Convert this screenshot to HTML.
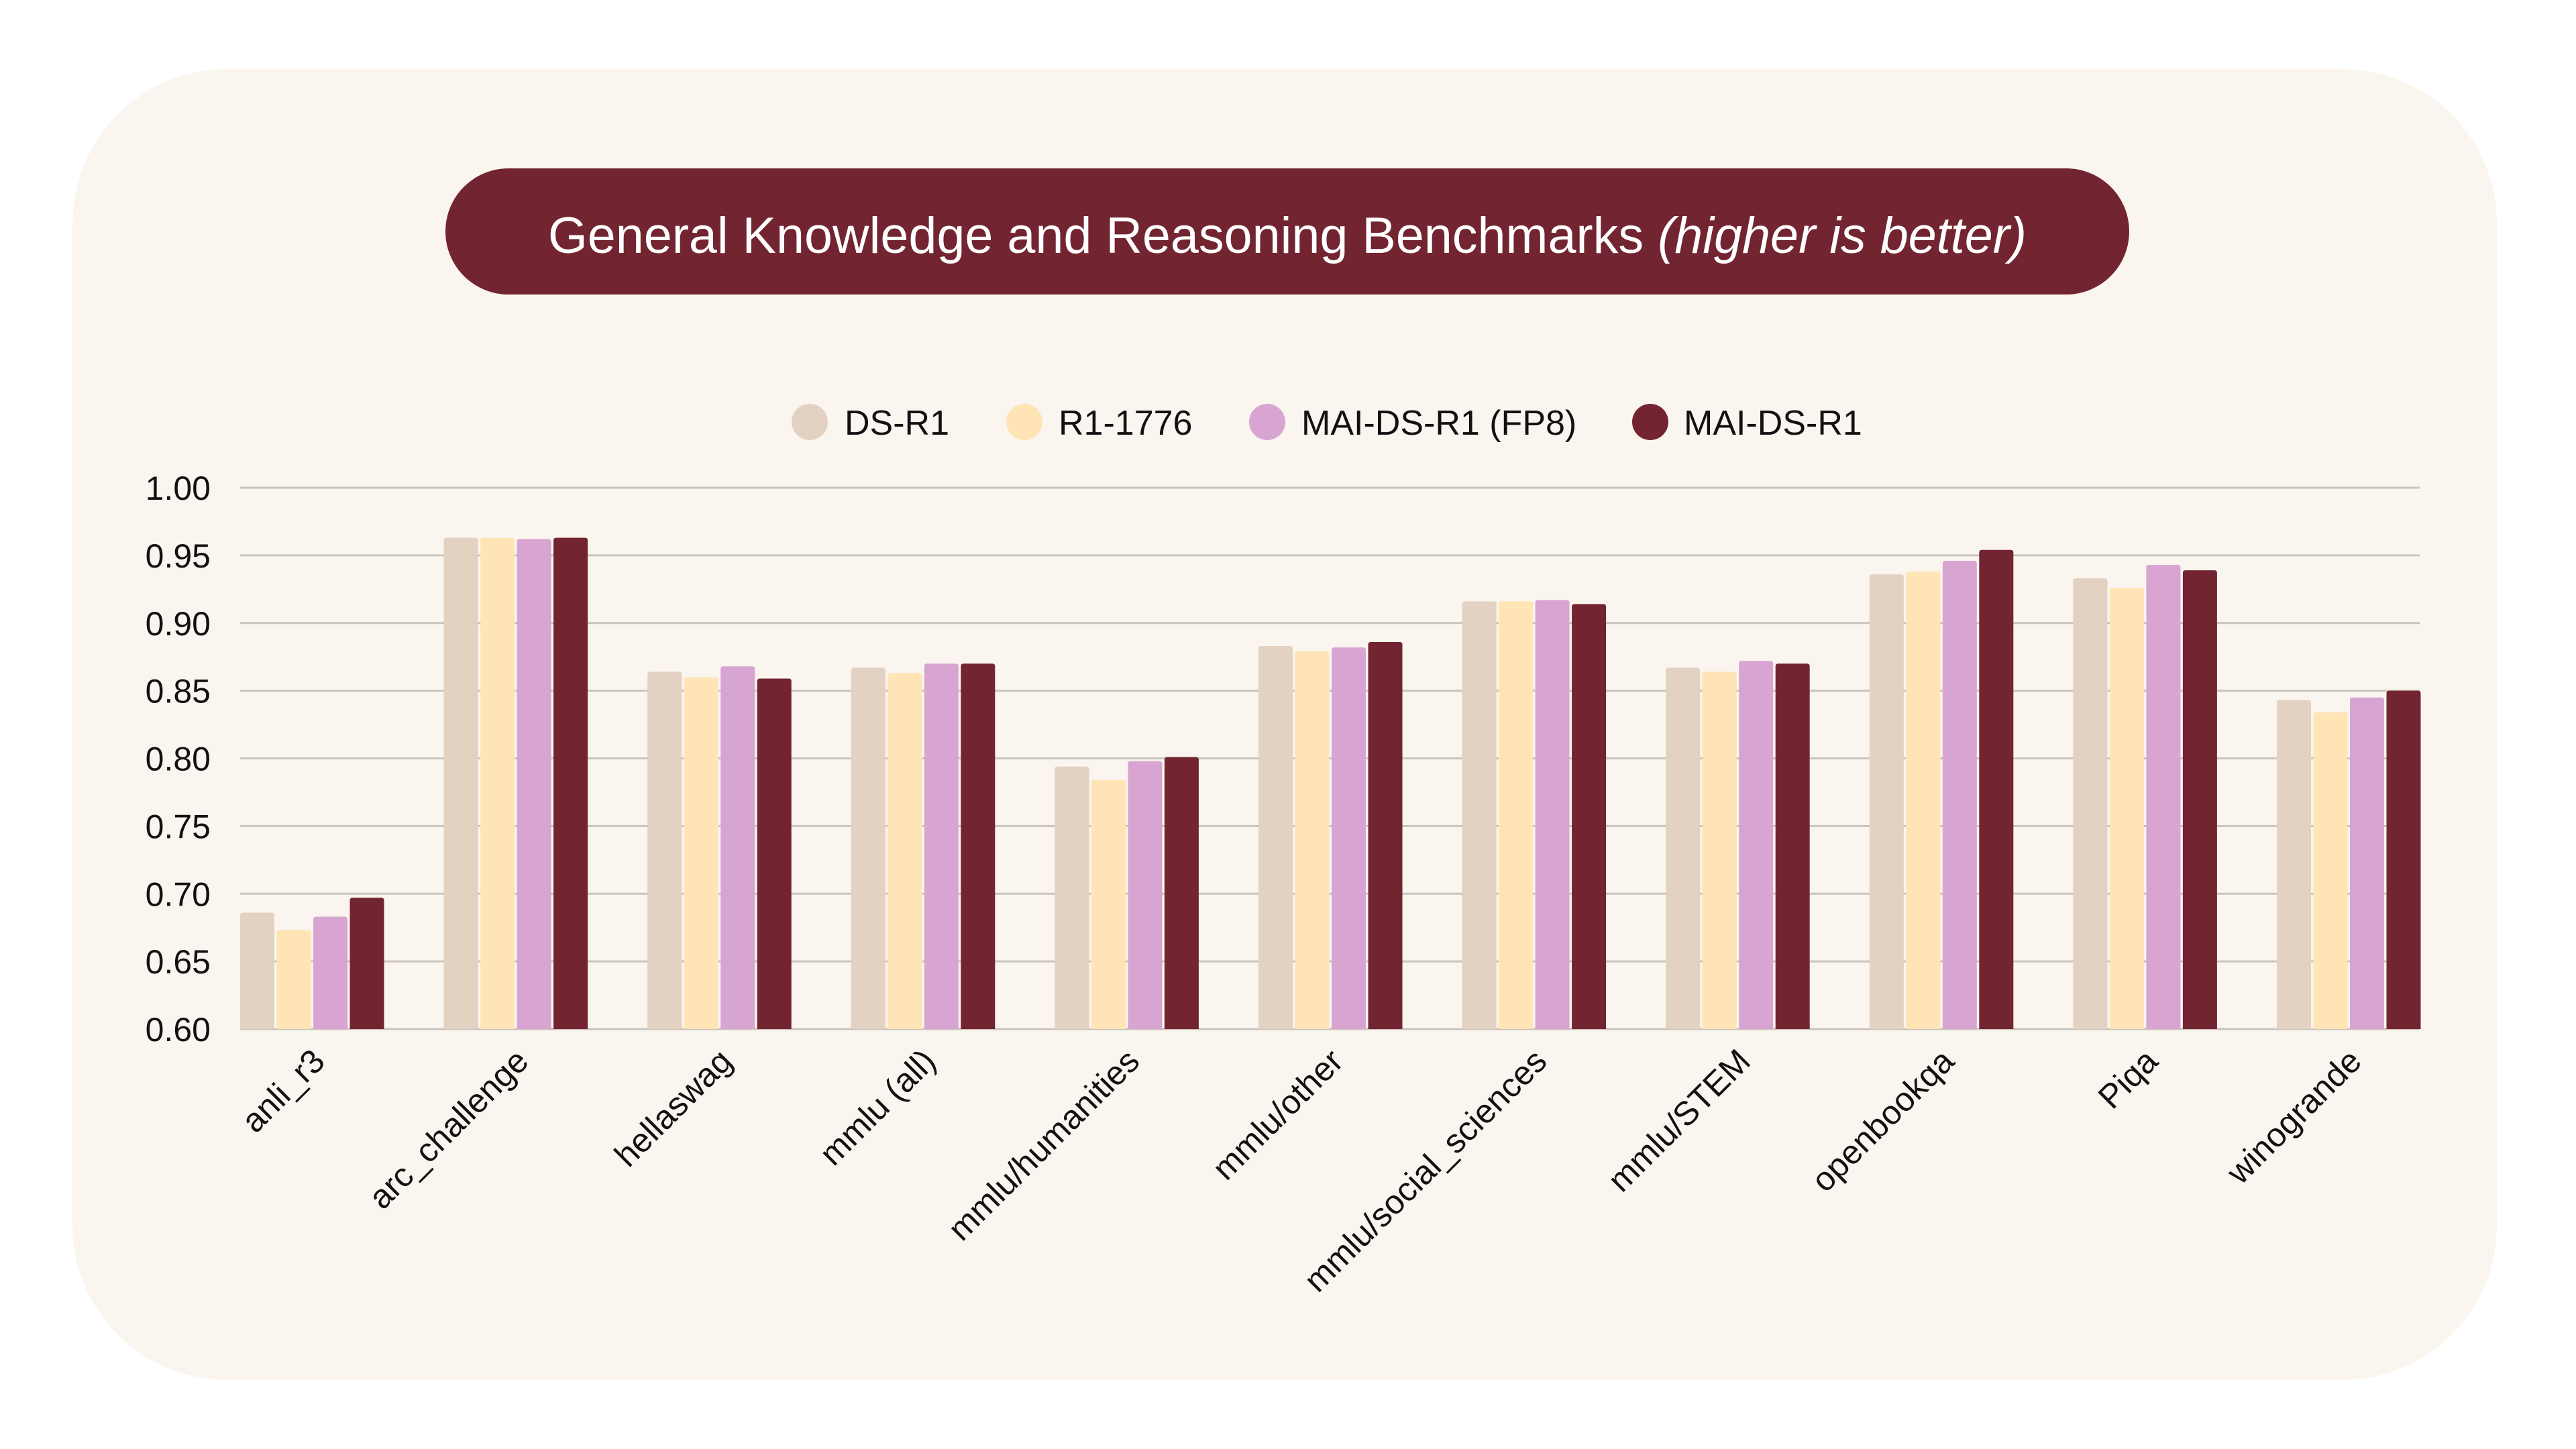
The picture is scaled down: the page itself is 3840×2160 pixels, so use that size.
<!DOCTYPE html>
<html><head><meta charset="utf-8"><style>
html,body{margin:0;padding:0;background:#fff;}
svg{display:block}
text{font-family:"Liberation Sans",sans-serif;}
</style></head><body>
<svg width="3840" height="2160" viewBox="0 0 3840 2160" xmlns="http://www.w3.org/2000/svg">
<rect x="0" y="0" width="3840" height="2160" fill="#ffffff"/>
<rect x="108" y="103" width="3614" height="1954" rx="230" ry="230" fill="#FAF5EE"/>
<rect x="664" y="251" width="2510" height="188" rx="94" ry="94" fill="#722530"/>
<text x="1919" y="377" text-anchor="middle" font-size="76" fill="#fff" textLength="2204" lengthAdjust="spacingAndGlyphs">General Knowledge and Reasoning Benchmarks <tspan font-style="italic">(higher is better)</tspan></text>
<g font-size="52" fill="#111">
<ellipse cx="1207" cy="629" rx="27" ry="27" fill="#E3D1C2"/><text x="1259" y="648">DS-R1</text>
<ellipse cx="1527" cy="629" rx="27" ry="27" fill="#FFE4B5"/><text x="1578" y="648">R1-1776</text>
<ellipse cx="1889" cy="629" rx="27" ry="27" fill="#D8A5D2"/><text x="1940" y="648">MAI-DS-R1 (FP8)</text>
<ellipse cx="2460" cy="629" rx="27" ry="27" fill="#722530"/><text x="2510" y="648">MAI-DS-R1</text>
</g>
<g id="grid" stroke="#c9c4bd" stroke-width="3"></g>
<g id="yl" font-size="50" fill="#111" text-anchor="end"></g>
<g id="bars"></g>
<g id="xl" font-size="50" fill="#111" text-anchor="end"></g>
<script>
var NS="http://www.w3.org/2000/svg";
function y(v){return 1534-(v-0.6)/0.4*807;}
var g=document.getElementById('grid'),yl=document.getElementById('yl');
for(var i=0;i<=8;i++){var v=0.6+i*0.05;var l=document.createElementNS(NS,'line');l.setAttribute('x1',358);l.setAttribute('x2',3607);l.setAttribute('y1',y(v));l.setAttribute('y2',y(v));g.appendChild(l);
var t=document.createElementNS(NS,'text');t.setAttribute('x',314);t.setAttribute('y',y(v)+18);t.textContent=v.toFixed(2);yl.appendChild(t);}
var data=[["anli_r3",[0.686,0.673,0.683,0.697]],["arc_challenge",[0.963,0.963,0.962,0.963]],["hellaswag",[0.864,0.860,0.868,0.859]],["mmlu (all)",[0.867,0.863,0.870,0.870]],["mmlu/humanities",[0.794,0.784,0.798,0.801]],["mmlu/other",[0.883,0.879,0.882,0.886]],["mmlu/social_sciences",[0.916,0.916,0.917,0.914]],["mmlu/STEM",[0.867,0.864,0.872,0.870]],["openbookqa",[0.936,0.938,0.946,0.954]],["Piqa",[0.933,0.926,0.943,0.939]],["winogrande",[0.843,0.834,0.845,0.850]]];
var cols=["#E3D1C2","#FFE4B5","#D8A5D2","#722530"];
var b=document.getElementById('bars'),xl=document.getElementById('xl');
data.forEach(function(d,i){var gx=358+i*303.6;
 d[1].forEach(function(v,j){var r=document.createElementNS(NS,'path');var x0=gx+j*54.5,w=51,yt=y(v),rr=4;
 r.setAttribute('d','M'+x0+',1534 L'+x0+','+(yt+rr)+' Q'+x0+','+yt+' '+(x0+rr)+','+yt+' L'+(x0+w-rr)+','+yt+' Q'+(x0+w)+','+yt+' '+(x0+w)+','+(yt+rr)+' L'+(x0+w)+',1534 Z');
 r.setAttribute('fill',cols[j]);b.appendChild(r);});
 var cx=gx+107;var t=document.createElementNS(NS,'text');t.setAttribute('transform','translate('+(cx+22)+',1585) rotate(-45)');t.textContent=d[0];xl.appendChild(t);});
</script>
</svg>
</body></html>
